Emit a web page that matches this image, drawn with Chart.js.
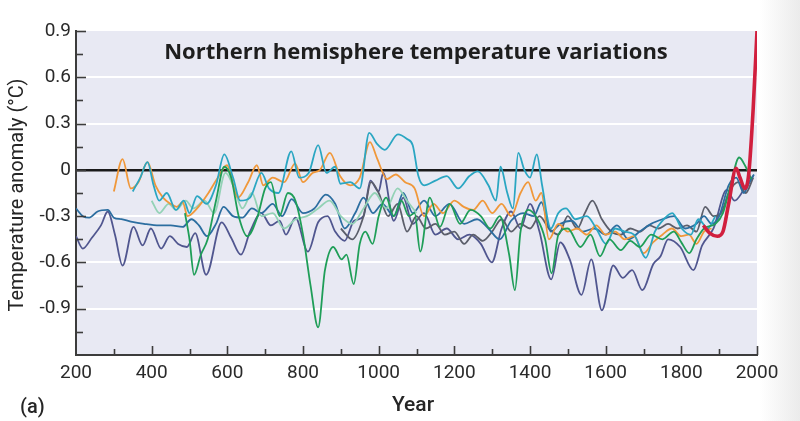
<!DOCTYPE html>
<html>
<head>
<meta charset="utf-8">
<script src="https://cdn.jsdelivr.net/npm/chart.js@4.4.1/dist/chart.umd.min.js"></script>
<style>
  html,body{margin:0;padding:0;background:linear-gradient(to right,#ffffff 0%,#ffffff 95%,#ebebeb 100%);}
  canvas{display:block;}
</style>
</head>
<body>
<canvas id="c" width="800" height="421"></canvas>
<script>
// ---------- data (year, anomaly °C) ----------
const xTickLabels = [200,400,600,800,1000,1200,1400,1600,1800,2000];
const yTickLabels = [0.9,0.6,0.3,0,-0.3,-0.6,-0.9];

const navyYears = [200,218,242,266,284,303,323,352,376,398,425,448,470,493,515,544,585,610,636,660,690,715,738,755,780,813,840,865,885,910,935,960,978,1000,1012,1040,1065,1090,1120,1150,1180,1210,1240,1270,1299,1325,1350,1375,1400,1425,1456,1480,1505,1536,1562,1590,1620,1645,1670,1697,1726,1745,1765,1797,1832,1855,1885,1920,1941,1965,1990];
const navyVals  = [-0.43,-0.51,-0.44,-0.36,-0.27,-0.42,-0.62,-0.37,-0.49,-0.38,-0.51,-0.43,-0.48,-0.50,-0.41,-0.68,-0.34,-0.44,-0.55,-0.40,-0.28,-0.36,-0.33,-0.42,-0.31,-0.53,-0.34,-0.30,-0.40,-0.46,-0.33,-0.30,-0.07,-0.14,-0.02,-0.33,-0.18,-0.35,-0.28,-0.42,-0.38,-0.45,-0.42,-0.48,-0.60,-0.38,-0.27,-0.38,-0.22,-0.40,-0.71,-0.47,-0.58,-0.81,-0.58,-0.91,-0.62,-0.70,-0.65,-0.78,-0.61,-0.56,-0.45,-0.50,-0.65,-0.49,-0.38,-0.13,-0.20,-0.13,-0.04];

const blueYears = [200,218,235,257,284,300,320,345,380,420,450,482,505,525,546,570,590,615,640,665,690,720,745,770,800,830,860,885,910,938,960,985,1010,1040,1065,1090,1120,1150,1187,1226,1260,1290,1320,1350,1382,1410,1430,1455,1480,1510,1540,1570,1600,1630,1660,1690,1720,1750,1780,1810,1840,1860,1880,1900,1925,1945,1965,1980,1992];
const blueVals  = [-0.25,-0.30,-0.31,-0.27,-0.26,-0.31,-0.32,-0.335,-0.35,-0.36,-0.36,-0.37,-0.32,-0.36,-0.43,-0.35,-0.24,-0.30,-0.31,-0.25,-0.28,-0.22,-0.30,-0.19,-0.28,-0.25,-0.16,-0.22,-0.38,-0.28,-0.18,-0.28,-0.22,-0.30,-0.15,-0.28,-0.20,-0.30,-0.22,-0.35,-0.32,-0.38,-0.45,-0.33,-0.28,-0.30,-0.21,-0.40,-0.35,-0.33,-0.40,-0.38,-0.42,-0.36,-0.45,-0.40,-0.35,-0.32,-0.30,-0.38,-0.35,-0.30,-0.35,-0.30,-0.10,-0.05,-0.15,-0.08,-0.03];

const grayYears = [900,930,960,980,1000,1025,1050,1075,1100,1125,1150,1175,1200,1226,1250,1275,1300,1325,1350,1375,1400,1425,1450,1475,1500,1525,1545,1565,1590,1615,1640,1665,1690,1715,1740,1765,1790,1815,1840,1863,1885,1905,1925,1950,1970,1990];
const grayVals  = [-0.38,-0.45,-0.30,-0.08,-0.15,-0.30,-0.22,-0.40,-0.30,-0.38,-0.35,-0.42,-0.40,-0.48,-0.42,-0.46,-0.40,-0.32,-0.40,-0.35,-0.38,-0.30,-0.38,-0.42,-0.30,-0.38,-0.28,-0.20,-0.32,-0.40,-0.42,-0.38,-0.40,-0.36,-0.38,-0.35,-0.38,-0.36,-0.40,-0.24,-0.30,-0.28,-0.15,-0.08,-0.15,-0.05];

const mintYears = [400,420,445,465,490,510,540,565,595,615,640,665,690,720,750,780,810,840,870,900,930,960,990,1020,1050,1075,1100];
const mintVals  = [-0.20,-0.28,-0.22,-0.26,-0.20,-0.25,-0.20,-0.28,-0.02,-0.10,-0.25,-0.15,-0.30,-0.28,-0.38,-0.32,-0.30,-0.25,-0.20,-0.30,-0.35,-0.25,-0.15,-0.25,-0.12,-0.20,-0.28];

const orangeYears = [300,323,345,365,389,410,430,450,466,482,495,520,550,575,599,628,655,678,695,720,750,779,800,825,845,871,898,925,950,977,995,1022,1045,1070,1095,1120,1145,1170,1200,1225,1250,1275,1300,1325,1350,1375,1395,1415,1430,1450,1475,1500,1525,1550,1575,1600,1625,1650,1675,1700,1725,1750,1775,1800,1820,1840,1860,1880];
const orangeVals  = [-0.14,0.07,-0.12,-0.08,0.05,-0.10,-0.18,-0.22,-0.24,-0.21,-0.30,-0.25,-0.15,-0.05,0.03,-0.18,-0.08,0.03,-0.10,-0.05,-0.08,0.04,-0.08,-0.02,0.00,0.11,-0.04,-0.10,-0.05,0.18,0.08,-0.06,-0.03,-0.08,-0.12,-0.30,-0.22,-0.28,-0.20,-0.24,-0.26,-0.20,-0.28,-0.22,-0.30,-0.15,-0.08,-0.20,-0.15,-0.45,-0.35,-0.40,-0.38,-0.42,-0.36,-0.42,-0.40,-0.45,-0.43,-0.54,-0.47,-0.42,-0.38,-0.43,-0.42,-0.48,-0.40,-0.38];

const tealYears = [350,370,389,405,420,440,464,485,500,520,545,570,592,615,634,660,690,710,735,769,790,815,840,862,885,899,925,950,975,995,1016,1051,1075,1090,1105,1120,1150,1180,1210,1240,1262,1290,1310,1322,1340,1355,1369,1385,1400,1418,1432,1455,1475,1495,1520,1550,1575,1601,1625,1650,1675,1706,1730,1750,1776,1801,1825,1845,1870,1890];
const tealVals  = [-0.14,-0.05,0.05,-0.10,-0.20,-0.15,-0.26,-0.20,-0.28,-0.17,-0.22,-0.10,0.10,-0.05,-0.20,-0.18,-0.02,-0.12,-0.15,0.12,-0.05,-0.02,0.16,-0.02,0.02,-0.09,-0.08,-0.12,0.24,0.17,0.13,0.23,0.20,0.16,-0.04,-0.10,-0.07,-0.04,-0.12,-0.04,-0.01,-0.10,-0.20,0.02,-0.15,-0.25,0.11,0.00,-0.05,0.10,-0.10,-0.38,-0.28,-0.25,-0.32,-0.30,-0.38,-0.48,-0.38,-0.40,-0.42,-0.57,-0.40,-0.33,-0.28,-0.38,-0.42,-0.32,-0.38,-0.30];

const greenYears = [488,500,512,530,548,570,592,610,630,653,680,700,715,738,760,780,800,820,840,858,880,902,915,934,950,965,984,1000,1020,1040,1060,1080,1095,1110,1135,1162,1188,1215,1243,1270,1295,1320,1345,1360,1375,1395,1420,1440,1457,1475,1500,1533,1560,1585,1610,1640,1665,1690,1720,1750,1780,1800,1821,1840,1860,1890,1910,1930,1953,1970,1985];
const greenVals  = [-0.28,-0.45,-0.68,-0.55,-0.45,-0.20,0.02,-0.05,-0.30,-0.43,-0.30,-0.12,-0.08,-0.30,-0.15,-0.20,-0.42,-0.75,-1.02,-0.65,-0.50,-0.58,-0.55,-0.74,-0.48,-0.40,-0.48,-0.30,-0.18,-0.30,-0.20,-0.30,-0.28,-0.53,-0.18,-0.37,-0.22,-0.35,-0.26,-0.30,-0.38,-0.30,-0.55,-0.78,-0.40,-0.26,-0.32,-0.45,-0.67,-0.42,-0.38,-0.50,-0.42,-0.56,-0.45,-0.52,-0.46,-0.50,-0.42,-0.45,-0.40,-0.47,-0.54,-0.45,-0.38,-0.35,-0.28,-0.10,0.08,0.02,-0.06];

const redYears = [1858,1875,1895,1910,1925,1945,1955,1968,1978,1990,2000];
const redVals  = [-0.36,-0.41,-0.43,-0.40,-0.22,0.01,-0.05,-0.12,-0.03,0.40,0.90];

// ---------- chart ----------
const pts = (xs, ys) => xs.map((x, i) => ({x: x, y: ys[i]}));
const mk = (label, xs, ys, color, w) => ({
  label, data: pts(xs, ys), borderColor: color, borderWidth: w,
  pointRadius: 0, fill: false, cubicInterpolationMode: 'monotone'
});

const FONT = 'Roboto, "Liberation Sans", sans-serif';

const decor = {
  id: 'decor',
  beforeDraw(chart) {
    const {ctx, chartArea: a} = chart;
    ctx.save();
    ctx.fillStyle = '#e8e9f3';
    ctx.fillRect(a.left, a.top, a.right - a.left, a.bottom - a.top);
    ctx.restore();
  },
  afterDraw(chart) {
    const {ctx, chartArea: a, scales} = chart;
    const xs = scales.x, ys = scales.y;
    ctx.save();
    ctx.strokeStyle = '#3c3c3c';
    ctx.lineWidth = 1.6;
    // y ticks (inside)
    for (let k = 1; k <= 14; k++) {
      const v = -1.2 + k * 0.15;
      const p = Math.round(ys.getPixelForValue(v)) + 0.5;
      const len = (k % 2 === 0) ? 10 : 7;
      ctx.beginPath(); ctx.moveTo(a.left, p); ctx.lineTo(a.left + len, p); ctx.stroke();
    }
    // x ticks (inside)
    for (let yr = 300; yr <= 2000; yr += 100) {
      const p = Math.round(xs.getPixelForValue(yr)) + 0.5;
      const len = (yr % 200 === 0) ? 9 : 6;
      ctx.beginPath(); ctx.moveTo(p, a.bottom); ctx.lineTo(p, a.bottom - len); ctx.stroke();
    }
    // texts
    ctx.fillStyle = '#1e1e1e';
    ctx.textAlign = 'center';
    ctx.textBaseline = 'middle';
    ctx.font = 'bold 22px "Open Sans", sans-serif';
    ctx.fillText('Northern hemisphere temperature variations', 416, 53);
    ctx.fillStyle = '#262626';
    ctx.font = '500 21px ' + FONT;
    ctx.fillText('Year', 413, 406);
    ctx.font = '500 20px ' + FONT;
    ctx.textAlign = 'left';
    ctx.fillText('(a)', 20, 408);
    ctx.save();
    ctx.translate(18, 195);
    ctx.rotate(-Math.PI / 2);
    ctx.textAlign = 'center';
    ctx.font = '20px ' + FONT;
    ctx.fillText('Temperature anomaly (\u00B0C)', 0, 0);
    ctx.restore();
    ctx.restore();
  }
};

new Chart(document.getElementById('c'), {
  type: 'line',
  data: {
    datasets: [
      mk('Instrumental', redYears, redVals, '#d11f3e', 3.6),
      mk('Series E', greenYears, greenVals, '#1f9e58', 1.8),
      mk('Series B', tealYears, tealVals, '#2aa6c2', 1.8),
      mk('Series A', orangeYears, orangeVals, '#f0983a', 1.8),
      mk('Series F', mintYears, mintVals, '#93d2b6', 1.8),
      mk('Series D', blueYears, blueVals, '#2c6ea0', 1.8),
      mk('Series G', grayYears, grayVals, '#5b5e6a', 1.8),
      mk('Series C', navyYears, navyVals, '#50568f', 1.8)
    ]
  },
  options: {
    responsive: false,
    animation: false,
    layout: {padding: {left: 0, top: 31, right: 43, bottom: 0}},
    plugins: {legend: {display: false}, tooltip: {enabled: false}, title: {display: false}},
    scales: {
      x: {
        type: 'linear', min: 200, max: 2000,
        afterFit: s => { s.height = 66; },
        afterBuildTicks: s => { s.ticks = xTickLabels.map(v => ({value: v})); },
        ticks: {color: '#2a2a2a', font: {family: FONT, size: 19}, padding: 7, maxRotation: 0,
                callback: v => String(v)},
        grid: {display: false, drawTicks: false},
        border: {display: true, color: '#3c3c3c', width: 2}
      },
      y: {
        min: -1.2, max: 0.9,
        afterFit: s => { s.width = 76; },
        afterBuildTicks: s => { s.ticks = [-1.2].concat(yTickLabels.slice().reverse()).map(v => ({value: v})); },
        ticks: {color: '#2a2a2a', font: {family: FONT, size: 19}, padding: 5,
                callback: v => (Math.abs(v + 1.2) < 1e-6) ? '' : String(Number(v.toFixed(1)))},
        grid: {
          drawTicks: false,
          color: c => {
            const v = c.tick ? c.tick.value : null;
            if (v === null) return 'rgba(0,0,0,0)';
            if (Math.abs(v) < 1e-6) return '#1a1a1a';
            if (Math.abs(v + 1.2) < 1e-6 || Math.abs(v - 0.9) < 1e-6) return 'rgba(0,0,0,0)';
            return '#ffffff';
          },
          lineWidth: c => (c.tick && Math.abs(c.tick.value) < 1e-6) ? 2.6 : 2
        },
        border: {display: true, color: '#3c3c3c', width: 2}
      }
    }
  },
  plugins: [decor]
});
</script>
</body>
</html>
